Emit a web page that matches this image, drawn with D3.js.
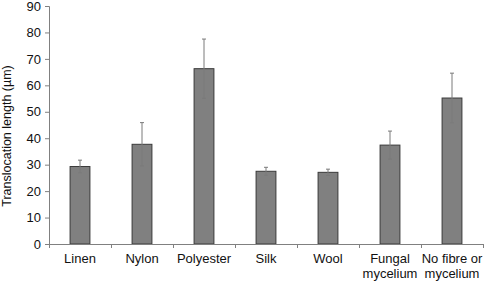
<!DOCTYPE html>
<html>
<head>
<meta charset="utf-8">
<script src="https://cdn.jsdelivr.net/npm/d3@7"></script>
<style>
  body { margin: 0; background: #fff; }
  svg { display: block; font-family: "Liberation Sans", Arial, sans-serif; }
</style>
</head>
<body>
<div id="chart"></div>
<script>
const categories = ['Linen', 'Nylon', 'Polyester', 'Silk', 'Wool', 'Fungal\nmycelium', 'No fibre or\nmycelium'];
const means = [29.3, 37.7, 66.3, 27.5, 27.1, 37.4, 55.2];
const errors = [2.4, 8.2, 11.2, 1.5, 1.2, 5.3, 9.4];
const yTicks = [0, 10, 20, 30, 40, 50, 60, 70, 80, 90];

const width = 484, height = 281;
const margin = { top: 6, right: 1, bottom: 37, left: 49 };
const innerW = width - margin.left - margin.right;
const innerH = height - margin.top - margin.bottom;

const svg = d3.select('#chart').append('svg').attr('width', width).attr('height', height);
const g = svg.append('g').attr('transform', `translate(${margin.left},${margin.top})`);

const x = d3.scaleBand().domain(categories).range([0, innerW]).paddingInner(0.68).paddingOuter(0.34);
const y = d3.scaleLinear().domain([0, 90]).range([innerH, 0]);
const step = x.step();

// bars
g.selectAll('.bar')
  .data(categories)
  .join('rect')
  .attr('class', 'bar')
  .attr('x', d => x(d))
  .attr('y', (d, i) => y(means[i]))
  .attr('width', x.bandwidth())
  .attr('height', (d, i) => y(0) - y(means[i]))
  .attr('fill', '#808080')
  .attr('stroke', '#3a3a3a')
  .attr('stroke-width', 1);

// error bars
const eb = g.selectAll('.err').data(categories).join('g').attr('class', 'err')
  .attr('stroke', '#7a7a7a').attr('stroke-width', 1);
eb.append('line')
  .attr('x1', d => x(d) + x.bandwidth() / 2).attr('x2', d => x(d) + x.bandwidth() / 2)
  .attr('y1', (d, i) => y(means[i] + errors[i])).attr('y2', (d, i) => y(means[i] - errors[i]));
eb.append('line')
  .attr('x1', d => x(d) + x.bandwidth() / 2 - 2).attr('x2', d => x(d) + x.bandwidth() / 2 + 2)
  .attr('y1', (d, i) => y(means[i] + errors[i])).attr('y2', (d, i) => y(means[i] + errors[i]));
eb.append('line')
  .attr('x1', d => x(d) + x.bandwidth() / 2 - 2).attr('x2', d => x(d) + x.bandwidth() / 2 + 2)
  .attr('y1', (d, i) => y(means[i] - errors[i])).attr('y2', (d, i) => y(means[i] - errors[i]));

// y axis
const yAxis = g.append('g').call(d3.axisLeft(y).tickValues(yTicks).tickSize(4).tickPadding(4));
yAxis.select('.domain').attr('stroke', '#808080');
yAxis.selectAll('.tick line').attr('stroke', '#808080');
yAxis.selectAll('.tick text').attr('font-size', 13).attr('fill', '#111')
  .attr('font-family', '"Liberation Sans", Arial, sans-serif');

// x axis line and ticks at category boundaries
g.append('line').attr('x1', 0).attr('x2', innerW).attr('y1', innerH + 0.5).attr('y2', innerH + 0.5)
  .attr('stroke', '#808080');
g.selectAll('.xtick')
  .data(d3.range(categories.length + 1))
  .join('line')
  .attr('class', 'xtick')
  .attr('x1', i => Math.round(i * step) + 0.5).attr('x2', i => Math.round(i * step) + 0.5)
  .attr('y1', innerH).attr('y2', innerH + 4)
  .attr('stroke', '#808080');

// x labels
const labels = g.selectAll('.xlab').data(categories).join('text')
  .attr('class', 'xlab')
  .attr('text-anchor', 'middle')
  .attr('font-size', 13)
  .attr('fill', '#111')
  .attr('transform', d => `translate(${x(d) + x.bandwidth() / 2},${innerH + 19})`);
labels.selectAll('tspan')
  .data(d => d.split('\n'))
  .join('tspan')
  .attr('x', 0)
  .attr('dy', (d, i) => i === 0 ? 0 : 15)
  .text(d => d);

// y label
svg.append('text')
  .attr('transform', `translate(11,136) rotate(-90)`)
  .attr('text-anchor', 'middle')
  .attr('font-size', 12.5)
  .attr('fill', '#111')
  .text('Translocation length (µm)');
</script>
</body>
</html>
